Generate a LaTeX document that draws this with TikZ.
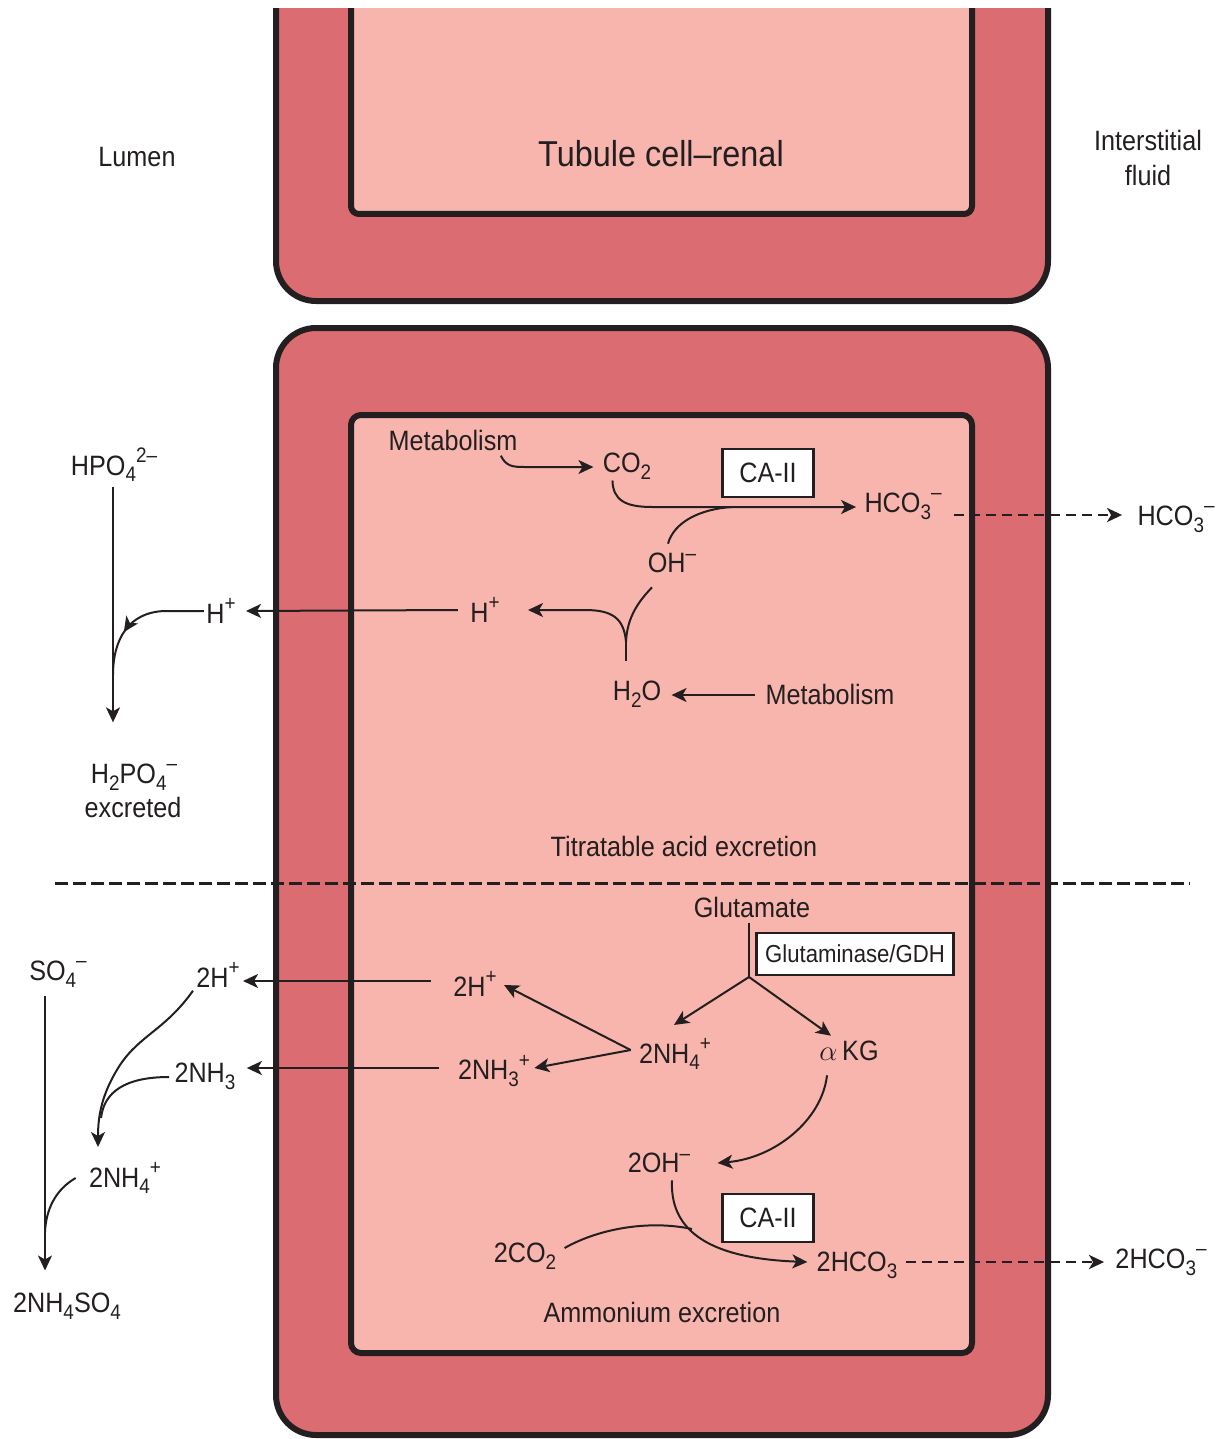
\documentclass[tikz,border=0pt]{standalone}
\usepackage{fontspec}
\setmainfont{Liberation Sans}[FakeStretch=0.9]
\usetikzlibrary{arrows.meta,calc,decorations.markings}

\definecolor{wallred}{HTML}{DB6C72}
\definecolor{cellpink}{HTML}{F7B5AD}
\definecolor{ink}{HTML}{231F20}

% chemical sub- and superscripts, a little larger than \textsubscript
\newcommand{\chsub}[1]{\raisebox{-0.45ex}{\fontsize{10.5}{10.5}\selectfont #1}}
\newcommand{\chsup}[1]{\raisebox{0.85ex}{\fontsize{10.5}{10.5}\selectfont #1}}

\begin{document}
\begin{tikzpicture}[x=0.5pt,y=-0.5pt,
  lbl/.style={inner sep=0pt, font=\fontsize{14}{17}\selectfont, text=ink},
  enz/.style={draw=ink, line width=1.3pt, fill=white, inner sep=0pt,
    font=\fontsize{14}{17}\selectfont, text=ink, minimum width=45.5pt, minimum height=24pt},
  tip/.style={-{Stealth[length=7.5pt,width=7pt,inset=2pt]}},
  ln/.style={draw=ink, line width=1pt},
  arr/.style={ln, tip},
  dsh/.style={arr, line width=1.4pt, dash pattern=on 5pt off 3pt},
  midarr/.style={ln, postaction={decorate}, decoration={markings,
    mark=at position #1 with {\arrow{Stealth[length=7.5pt,width=7pt,inset=2pt]}}}},
  wall/.style={fill=wallred, draw=ink, line width=3pt},
  cyto/.style={fill=cellpink, draw=ink, line width=3pt},
]
\useasboundingbox (0,0) rectangle (1222,1439);

% upper tubule cell, cut off at the top edge
\begin{scope}
  \clip (0,9) rectangle (1222,400);
  \draw[wall, rounded corners=20pt] (276,-80) rectangle (1048,301);
  \draw[cyto, rounded corners=4pt] (351,-80) rectangle (972,214);
\end{scope}

% lower tubule cell
\draw[wall, rounded corners=20pt] (276,328) rectangle (1048,1435);
\draw[cyto, rounded corners=5pt] (351,415) rectangle (972,1353);

% divider between the two excretion pathways
\draw[ink, line width=1.5pt, dash pattern=on 6.5pt off 2.5pt] (55,883) -- (1190,883);

% region labels
\node[lbl] (lumen) at (137,157) {Lumen};
\node[lbl, font=\fontsize{18}{22}\selectfont] (title) at (661,154) {Tubule cell–renal};
\node[lbl, align=center, font=\fontsize{14}{17.5}\selectfont] (ifluid) at (1148,158) {Interstitial\\fluid};

% ---------------- titratable acid excretion ----------------
\node[lbl] (met1) at (453,440) {Metabolism};
\node[lbl] (co2) at (627,466) {CO\chsub{2}};
\node[enz] (ca1) at (768,473) {CA-II};
\node[lbl] (hco3) at (903,506) {HCO\chsub{3}\chsup{–}};
\node[lbl] (hco3R) at (1176,519) {HCO\chsub{3}\chsup{–}};
\node[lbl] (oh) at (672,563) {OH\chsup{–}};
\node[lbl] (hin) at (485,610) {H\chsup{+}};
\node[lbl] (hout) at (221,611) {H\chsup{+}};
\node[lbl] (h2o) at (637,694) {H\chsub{2}O};
\node[lbl] (met2) at (830,694) {Metabolism};
\node[lbl] (hpo4) at (114,465) {HPO\chsub{4}\chsup{2–}};
\node[lbl] (h2po4) at (134,777) {H\chsub{2}PO\chsub{4}\chsup{–}};
\node[lbl] (excr) at (133,807) {excreted};
\node[lbl] (titr) at (684,846) {Titratable acid excretion};

\draw[arr] ($(met1.south east)+(-17,5)$) .. controls (506,466) and (512,467) .. (524,467)
  -- ($(co2.west)+(-9,1)$);
\draw[arr] ($(co2.south west)+(10,1)$) .. controls (613,500) and (625,507) .. (652,507)
  -- ($(hco3.west)+(-8,1)$);
\draw[ln] ($(oh.north)+(-4,-9)$) .. controls (674,522) and (700,509) .. (732,507);

\coordinate (yj) at (626,642);
\draw[ln] ($(h2o.north)+(-11,-20)$) -- (yj);
\draw[ln] (yj) .. controls (627,616) and (640,600) .. ($(oh.south)+(-20,14)$);
\draw[arr] (yj) .. controls (624,618) and (612,610) .. (585,610) -- ($(hin.east)+(28,0)$);
\draw[arr] ($(hin.west)+(-12,0)$) -- ($(hout.east)+(10,0)$);
\draw[arr] (met2.west) ++(-10,1) -- ($(h2o.east)+(10,1)$);

\coordinate (pj) at (113,675);
\draw[arr] ($(hpo4.south)+(-1,5)$) -- ++(0,235);
\draw[midarr=0.66] ($(hout.west)+(-2,0)$) -- (165,611) .. controls (128,612) and (113,640) .. (pj);

% ---------------- ammonium excretion ----------------
\node[lbl] (glu) at (752,907) {Glutamate};
\node[enz, font=\fontsize{12.3}{14}\selectfont, minimum width=98.5pt, minimum height=21pt] (gdh) at (855,954) {Glutaminase/GDH};
\node[lbl] (h2in) at (475,984) {2H\chsup{+}};
\node[lbl] (h2out) at (218,975) {2H\chsup{+}};
\node[lbl] (nh4c) at (675,1054) {2NH\chsub{4}\chsup{+}};
\node[lbl] (akg) at (849,1051) {$\alpha$\,KG};
\node[lbl] (nh3in) at (494,1071) {2NH\chsub{3}\chsup{+}};
\node[lbl] (nh3out) at (205,1076) {2NH\chsub{3}};
\node[lbl] (so4) at (58,974) {SO\chsub{4}\chsup{–}};
\node[lbl] (nh4out) at (125,1178) {2NH\chsub{4}\chsup{+}};
\node[lbl] (nh4so4) at (67,1306) {2NH\chsub{4}SO\chsub{4}};
\node[lbl] (oh2) at (659,1163) {2OH\chsup{–}};
\node[enz] (ca2) at (768,1218) {CA-II};
\node[lbl] (co2b) at (525,1256) {2CO\chsub{2}};
\node[lbl] (hco3b) at (857,1265) {2HCO\chsub{3}};
\node[lbl] (hco3bR) at (1161,1262) {2HCO\chsub{3}\chsup{–}};
\node[lbl] (amm) at (662,1312) {Ammonium excretion};

\coordinate (gj) at (749,977);
\draw[ln] ($(glu.south)+(-3,5)$) -- (gj);
\draw[arr] (gj) -- ($(nh4c.north)+(-1,-13)$);
\draw[arr] (gj) -- ($(akg.north)+(-18,-5)$);

\coordinate (nj) at ($(nh4c.west)+(-8,-4)$);
\draw[arr] (nj) -- ($(h2in.east)+(7,1)$);
\draw[arr] (nj) -- ($(nh3in.east)+(4,-3)$);

\coordinate (h2s) at ($(h2in.west)+(-22,-3)$);
\coordinate (h2t) at ($(h2out.east)+(3,0)$);
\draw[arr] (h2s) -- (h2s -| h2t);
\coordinate (n3s) at ($(nh3in.west)+(-19,-3)$);
\coordinate (n3t) at ($(nh3out.east)+(11,0)$);
\draw[arr] (n3s) -- (n3s -| n3t);

\draw[arr] ($(so4.south)+(-13,8)$) -- ++(0,275);
\draw[arr] ($(h2out.south west)+(-3,3)$) .. controls (165,1030) and (140,1035) .. (120,1065)
  .. controls (102,1093) and (98,1115) .. (98,1147);
\draw[ln] ($(nh3out.west)+(-5,1)$) .. controls (125,1077) and (104,1092) .. (101,1118);
\draw[ln] ($(nh4out.west)+(-13,0)$) .. controls (55,1190) and (46,1210) .. (45,1232);

\draw[arr] ($(akg.south)+(-22,14)$) .. controls (822,1120) and (775,1158) .. ($(oh2.east)+(27,0)$);
\draw[arr] ($(oh2.south)+(13,7)$) .. controls (670,1225) and (700,1258) .. ($(hco3b.west)+(-9,-3)$);
\draw[ln] ($(co2b.east)+(8,-8)$) .. controls (600,1228) and (650,1220) .. (692,1229);

% bicarbonate leaving to the interstitial fluid
\coordinate (d1) at ($(hco3.east)+(12,9)$);
\coordinate (d1e) at ($(hco3R.west)+(-15,0)$);
\draw[dsh] (d1) -- (d1 -| d1e);
\coordinate (d2) at ($(hco3b.east)+(8,-3)$);
\coordinate (d2e) at ($(hco3bR.west)+(-11,0)$);
\draw[dsh] (d2) -- (d2 -| d2e);
\end{tikzpicture}
\end{document}
